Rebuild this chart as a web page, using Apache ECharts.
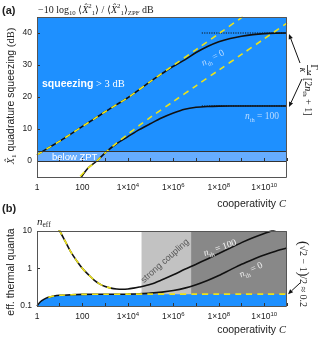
<!DOCTYPE html>
<html><head><meta charset="utf-8">
<script src="https://cdn.jsdelivr.net/npm/echarts@6/dist/echarts.min.js"></script>
<style>html,body{margin:0;padding:0;background:#fff}#c{width:324px;height:338px}</style>
</head><body><div id="c"></div>
<script>
// ================= DATA (x values are log10 of cooperativity C) =================
const xTickExp = [0,1,2,3,4,5,6,7,8,9,10,11];
const xLabelExp = [0,2,4,6,8,10];
const ticksA = [0,10,20,30,40];
const ticksB = [0.1,1,10];

// Panel (a): squeezing in dB
const aUpperYellowX = [0,0.5,1,1.5,2,2.5,3,3.5,4,5,6,7,8,9,9.2];
const aUpperYellowY = [1.9,4.1,6.2,8.5,10.8,13.1,15.4,17.6,19.8,24.9,29.9,34.8,39.8,44.8,45.8];
const aUpperBlackX = [0,0.5,1,1.5,2,2.5,3,3.5,4,5,5.5,6,6.5,7,7.5,8,8.5,9,9.5,10,10.5,11];
const aUpperBlackY = [1.9,4.1,6.2,8.5,10.8,13.1,15.4,17.6,19.8,24.9,27.3,29.6,31.6,33.9,35.8,37.3,38.3,39.0,39.5,39.8,39.95,40];
const aLowerYellowX = [1.9,2.25,2.63,3.07,3.5,4,4.5,5,6,7,8,9,10,11];
const aLowerYellowY = [-4.8,-2.2,0,3.0,5.6,8.4,11.1,13.7,18.6,23.5,28.4,33.3,38.2,43.1];
const aLowerBlackX = [1.95,2.25,2.63,3.07,3.5,4,4.5,5,5.5,6,6.5,7,7.5,8,9,10,11];
const aLowerBlackY = [-5,-2.2,0,3.0,5.4,7.6,9.8,11.7,13.5,15.0,16.2,16.8,17.05,17.15,17.2,17.2,17.2];
const aLimitX = [7.25, 11];
const aLimitTop = 40;
const aLimitBottom = 17.2;
const zptBand = [0, 3];

// Panel (b): effective thermal quanta
const bFloorX = [0,0.15,0.3,0.5,0.75,1,1.5,2,3,4,5,6,7,8,9,10,11];
const bFloorY = [0.1,0.13,0.15,0.17,0.185,0.193,0.2,0.204,0.206,0.207,0.207,0.207,0.207,0.207,0.207,0.207,0.207];
const bZeroX = [0,0.15,0.3,0.5,0.75,1,1.5,2,3,4,4.5,5,5.5,6,6.5,7,7.5,8,8.5,9,9.5,10,10.5,11];
const bZeroY = [0.1,0.13,0.15,0.17,0.185,0.193,0.2,0.204,0.206,0.207,0.212,0.22,0.235,0.26,0.3,0.37,0.48,0.65,0.92,1.3,1.75,2.3,2.9,3.5];
const bHundredX = [0.95,1,1.25,1.5,1.75,2,2.25,2.5,2.75,3,3.25,3.5,3.75,4,4.25,4.5,5,5.5,6,6.5,7,7.5,8,8.5,9,9.5,10,10.5];
const bHundredY = [10.8,10,5.2,2.7,1.6,1.0,0.7,0.5,0.39,0.33,0.3,0.285,0.28,0.285,0.3,0.32,0.38,0.5,0.68,0.95,1.3,1.8,2.5,3.5,4.9,6.6,8.6,11];
const bApproxX = [0.95,1,1.25,1.5,1.75,2,2.25,2.5,2.75,3,3.25];
const bApproxY = [10.8,10,5.2,2.7,1.6,1.0,0.7,0.5,0.39,0.33,0.3];
const bFloorDashX = [0.5,0.75,1,1.5,2,3,4,5,6,7,8,9,10,11];
const bFloorDashY = [0.17,0.185,0.193,0.2,0.204,0.206,0.207,0.207,0.207,0.207,0.207,0.207,0.207,0.207];
const strongLight = [4.6, 6.78];
const strongDark = [6.78, 11];

// ================= CHART =================
const L = {left:37, width:250, aTop:17, aH:160, bTop:231, bH:75};
const SANS = 'Liberation Sans, Arial, sans-serif';
const SERIF = 'Liberation Serif, Times New Roman, serif';
const BLUE = '#1e90ff', LIGHTBLUE = '#66acff', YEL = '#ece21a', INK = '#222';
const P = e => Math.pow(10, e);
const pts = (xs, ys) => xs.map((e,i)=>[P(e), ys[i]]);

function xLabel(v){
  const e = Math.round(Math.log10(v));
  if (xLabelExp.indexOf(e) < 0) return '';
  if (e === 0) return '1';
  if (e === 2) return '100';
  return '1×10{sup|' + e + '}';
}
function xAxisFor(g){
  return {type:'log', gridIndex:g, logBase:10, min:P(xTickExp[0]), max:P(xTickExp[xTickExp.length-1]), interval:1, z:10,
    axisLine:{show:false}, splitLine:{show:false}, minorTick:{show:false},
    axisTick:{show:true, inside:true, length:3, lineStyle:{color:'#333', width:1}},
    axisLabel:{formatter:xLabel, margin:5, fontSize:8.5, lineHeight:12, fontFamily:SANS, color:INK,
      rich:{sup:{fontSize:6, lineHeight:6, verticalAlign:'top', fontFamily:SANS, color:INK}}}};
}
function nearest(arr, v){
  const d = t => Math.abs(Math.log10(t) - Math.log10(v));
  return arr.reduce((b, t) => d(t) < d(b) ? t : b, arr[0]);
}

const blackLine = {color:'#111', width:1.6};
const yelLine = {color:YEL, width:1.6, type:[6,5]};

const option = {
  animation:false,
  grid:[
    {left:L.left, top:L.aTop, width:L.width, height:L.aH, show:true, backgroundColor:BLUE, borderWidth:0},
    {left:L.left, top:L.bTop, width:L.width, height:L.bH, show:true, backgroundColor:'#fff', borderWidth:0}
  ],
  xAxis:[xAxisFor(0), xAxisFor(1)],
  yAxis:[
    {type:'value', gridIndex:0, min:-5, max:45, splitNumber:5, z:10, axisLine:{show:false}, splitLine:{show:false},
     axisTick:{show:true, inside:true, length:3, lineStyle:{color:'#333'}},
     axisLabel:{formatter:v => ticksA.indexOf(Math.round(v))>=0 && Math.abs(v-Math.round(v))<1e-6 ? String(Math.round(v)) : '', margin:5, fontSize:8.5, fontFamily:SANS, color:INK}},
    {type:'log', gridIndex:1, logBase:10, min:ticksB[0], max:ticksB[ticksB.length-1], z:10, axisLine:{show:false}, splitLine:{show:false}, minorTick:{show:false},
     axisTick:{show:true, inside:true, length:3, lineStyle:{color:'#333'}},
     axisLabel:{formatter:v => String(nearest(ticksB, v)), margin:5, fontSize:8.5, fontFamily:SANS, color:INK}}
  ],
  series:[
    // ----- panel a -----
    {type:'line', xAxisIndex:0, yAxisIndex:0, data:pts(aLimitX, [aLimitTop, aLimitTop]), symbol:'none', z:3,
     lineStyle:{color:'#111', width:1, type:[1.2,1.2]},
     markArea:{silent:true, z:1, data:[
       [{yAxis:-5, itemStyle:{color:'#ffffff'}},{yAxis:zptBand[0]}],
       [{yAxis:zptBand[0], itemStyle:{color:LIGHTBLUE}},{yAxis:zptBand[1]}]]},
     markLine:{silent:true, symbol:'none', label:{show:false}, lineStyle:{color:'#333', width:1, type:'solid'},
       data:[{yAxis:zptBand[0]},{yAxis:zptBand[1]}]}},
    {type:'line', xAxisIndex:0, yAxisIndex:0, data:pts(aLimitX, [aLimitBottom, aLimitBottom]), symbol:'none', z:3,
     lineStyle:{color:'#111', width:1, type:[1.2,1.2]}},
    {type:'line', xAxisIndex:0, yAxisIndex:0, data:pts(aUpperBlackX, aUpperBlackY), symbol:'none', smooth:0.3, z:3, lineStyle:blackLine},
    {type:'line', xAxisIndex:0, yAxisIndex:0, data:pts(aLowerBlackX, aLowerBlackY), symbol:'none', smooth:0.3, z:3, lineStyle:blackLine},
    {type:'line', xAxisIndex:0, yAxisIndex:0, data:pts(aUpperYellowX, aUpperYellowY), symbol:'none', smooth:0.3, z:4, lineStyle:yelLine},
    {type:'line', xAxisIndex:0, yAxisIndex:0, data:pts(aLowerYellowX, aLowerYellowY), symbol:'none', smooth:0.3, z:4, lineStyle:yelLine},
    // ----- panel b -----
    {type:'line', xAxisIndex:1, yAxisIndex:1, data:pts(bFloorX, bFloorY), symbol:'none', smooth:0.3, z:2,
     lineStyle:{width:0}, areaStyle:{color:BLUE, opacity:1, origin:'start'},
     markArea:{silent:true, z:1, data:[
       [{xAxis:P(strongLight[0]), itemStyle:{color:'#c2c2c2'}},{xAxis:P(strongLight[1])}],
       [{xAxis:P(strongDark[0]), itemStyle:{color:'#888888'}},{xAxis:P(strongDark[1])}]]}},
    {type:'line', xAxisIndex:1, yAxisIndex:1, data:pts(bZeroX, bZeroY), symbol:'none', smooth:0.3, z:3, lineStyle:blackLine},
    {type:'line', xAxisIndex:1, yAxisIndex:1, data:pts(bHundredX, bHundredY), symbol:'none', smooth:0.3, z:3, lineStyle:blackLine},
    {type:'line', xAxisIndex:1, yAxisIndex:1, data:pts(bApproxX, bApproxY), symbol:'none', smooth:0.3, z:4, lineStyle:yelLine},
    {type:'line', xAxisIndex:1, yAxisIndex:1, data:pts(bFloorDashX, bFloorDashY), symbol:'none', smooth:0.3, z:4, lineStyle:yelLine}
  ]
};

const chart = echarts.init(document.getElementById('c'), null, {renderer:'canvas', width:324, height:338});
chart.setOption(option);

// ================= ANNOTATIONS =================
const tok = (o) => Object.assign({fill:INK, fontFamily:SERIF, fontSize:10.5, lineHeight:14}, o);
const mathRich = (fill, fs) => ({
  t: tok({fill, fontSize:fs}),
  i: tok({fill, fontSize:fs, fontStyle:'italic'}),
  s: tok({fill, fontSize:fs, fontFamily:SANS}),
  b: tok({fill, fontSize:fs, fontFamily:SANS, fontWeight:'bold'}),
  p: tok({fill, fontSize:fs+4, lineHeight:16}),
  sub: tok({fill, fontSize:fs*0.68, lineHeight:8, verticalAlign:'bottom'}),
  sup: tok({fill, fontSize:fs*0.68, lineHeight:8, verticalAlign:'top'})
});
function txt(x, y, text, o){
  o = o || {};
  return {type:'text', x, y, rotation:o.rot||0, z:100,
    style:{text, rich:mathRich(o.fill||INK, o.fs||10.5), align:o.align||'left', verticalAlign:'middle', fill:o.fill||INK}};
}
function arrow(x1,y1,x2,y2){
  const a = Math.atan2(y2-y1, x2-x1), h=5, w=2.2;
  const bx = x2 - h*Math.cos(a), by = y2 - h*Math.sin(a);
  return [{type:'line', z:100, shape:{x1,y1,x2:bx,y2:by}, style:{stroke:'#111', lineWidth:1}},
          {type:'polygon', z:100, shape:{points:[[x2,y2],[bx - w*Math.sin(a), by + w*Math.cos(a)],[bx + w*Math.sin(a), by - w*Math.cos(a)]]}, style:{fill:'#111'}}];
}
const pA40 = chart.convertToPixel({gridIndex:0}, [P(11), aLimitTop]);
const pA17 = chart.convertToPixel({gridIndex:0}, [P(11), aLimitBottom]);
const pBfl = chart.convertToPixel({gridIndex:1}, [P(11), bFloorY[bFloorY.length-1]]);

const W = '#ffffff', LB = '#bcdcff';
const graphic = [
  {type:'rect', z:99, shape:{x:L.left+0.5, y:L.aTop+0.5, width:L.width-1, height:L.aH}, style:{fill:null, stroke:'#555', lineWidth:1}},
  {type:'rect', z:99, shape:{x:L.left+0.5, y:L.bTop+0.5, width:L.width-1, height:L.bH}, style:{fill:null, stroke:'#555', lineWidth:1}},
  txt(2, 11, '{b|(a)}', {fs:11}),
  txt(2, 209, '{b|(b)}', {fs:11}),
  txt(38, 10, '{t|−10 log}{sub|10}{t| ⟨}{i|X̂}{sup|2}{sub|1}{t|⟩ / ⟨}{i|X̂}{sup|2}{sub|1}{t|⟩}{sub|ZPF}{t| dB}', {fs:10}),
  txt(11, 96, '{i|X̂}{sub|1}{s| quadrature squeezing }{t|(dB)}', {align:'center', rot:Math.PI/2, fs:10.5}),
  txt(11, 272, '{s|eff. thermal quanta}', {align:'center', rot:Math.PI/2, fs:10.5}),
  txt(286, 204, '{s|cooperativity }{i|C}', {align:'right', fs:10.5}),
  txt(286, 330, '{s|cooperativity }{i|C}', {align:'right', fs:10.5}),
  txt(37, 222, '{i|n}{sub|eff}', {fs:11}),
  txt(42, 84, '{b|squeezing}{t| > 3 dB}', {fill:W, fs:10.5}),
  txt(52, 157, '{s|below ZPT}', {fill:W, fs:9.5}),
  txt(213, 58, '{i|n}{sub|th}{t| = 0}', {fill:LB, fs:9.5, align:'center', rot:0.49}),
  txt(262, 116, '{i|n}{sub|th}{t| = 100}', {fill:LB, fs:9.5, align:'center'}),
  txt(165, 261, '{s|strong coupling}', {fill:'#555', fs:9, align:'center', rot:0.73}),
  txt(220, 248, '{i|n}{sub|th}{t| = 100}', {fill:'#f4f4f4', fs:9.5, align:'center', rot:0.34}),
  txt(251, 270, '{i|n}{sub|th}{t| = 0}', {fill:'#eeeeee', fs:9.5, align:'center', rot:0.44}),
  {type:'group', x:308, y:70, rotation:-Math.PI/2, z:100, children:[
    txt(0, -5, '{t|Γ}{sub|M}', {align:'center', fs:9.5}),
    {type:'line', z:100, shape:{x1:-5, y1:0.5, x2:5, y2:0.5}, style:{stroke:INK, lineWidth:0.8}},
    txt(0, 6, '{i|κ}', {align:'center', fs:9.5}),
    txt(8, 0, '{t|[2}{i|n}{sub|th}{t| + 1]}', {fs:10})
  ]},
  txt(303, 274, '{p|(}{t|√2 − 1}{p|)}{t|/2 ≈ 0.2}', {align:'center', rot:-Math.PI/2, fs:10}),
  ...arrow(300, 63, pA40[0]+2, pA40[1]+1),
  ...arrow(302, 79, pA17[0]+2, pA17[1]+1),
  ...arrow(300, 283, pBfl[0]+1, pBfl[1])
];
chart.setOption({graphic});
</script>
</body></html>
